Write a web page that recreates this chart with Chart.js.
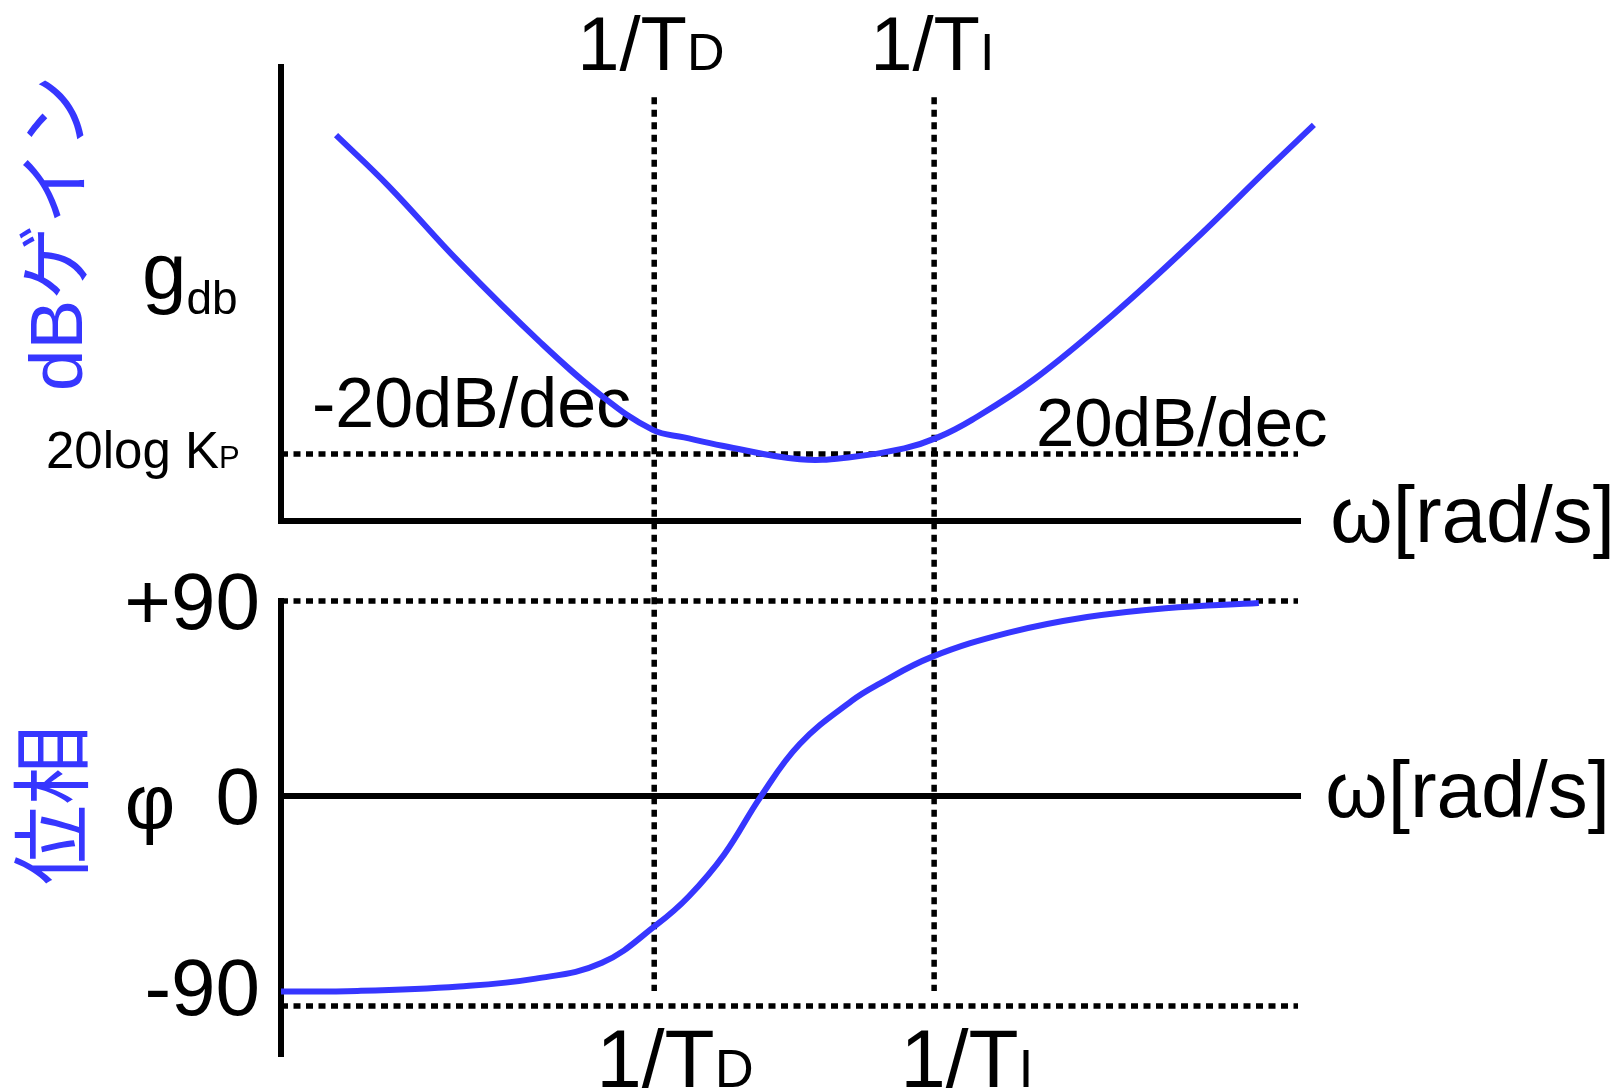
<!DOCTYPE html>
<html>
<head>
<meta charset="utf-8">
<title>PID Bode sketch</title>
<script src="https://cdn.jsdelivr.net/npm/chart.js@4.4.1/dist/chart.umd.min.js"></script>
<style>
  html, body { margin: 0; padding: 0; background: #fff; }
  #wrap { position: relative; width: 1618px; height: 1088px; }
</style>
</head>
<body>
<div id="wrap"><canvas id="bode"></canvas></div>
<script>
// x = position along the (log) frequency axis, y-axis sits at 0
const gainW = [0.59, 1.15, 1.91, 2.78, 3.44, 3.99, 4.32, 4.73, 5.56, 6.12, 6.68, 7.04, 7.41, 8.08, 8.92, 9.76, 10.59, 11.07];
const gainDb = [102.0, 88.6, 68.4, 47.2, 33.0, 24.0, 22.1, 19.9, 16.3, 16.9, 19.2, 22.1, 26.8, 37.6, 54.6, 73.5, 93.4, 104.7];

const phaseW = [0, 0.82, 1.91, 2.73, 3.44, 4.03, 4.37, 4.75, 5.14, 5.56, 6.12, 6.40, 6.97, 7.80, 8.64, 9.48, 10.48];
const phaseDeg = [-90.3, -90.0, -87.9, -84.3, -77.0, -59.3, -46.4, -27.0, -0.4, 24.0, 44.0, 51.5, 64.1, 75.4, 82.6, 86.7, 89.1];

const cornerD = 4;      // 1/TD
const cornerI = 7;      // 1/TI
const kpLevel = 17.7;   // 20log Kp
const phaseTickLabels = ['+90', '0', '-90'];
const phaseTickValues = [90, 0, -88];
const phaseGuides = [90, -97];   // dotted guides, the lower one sits a little under the curve's start
const axisEnd = 10.9;

(function () {
  const BLUE = '#3636ff';
  const INK = '#000';
  const LATIN = '"Liberation Sans", Arial, Helvetica, sans-serif';
  const JP = '"Liberation Sans", "Noto Sans CJK JP", sans-serif';

  function line(ctx, x1, y1, x2, y2, dotted) {
    ctx.save();
    ctx.strokeStyle = INK;
    if (dotted) {
      ctx.lineWidth = 5.5;
      ctx.setLineDash([7, 5.5]);
      ctx.lineCap = 'butt';
    } else {
      ctx.lineWidth = 6;
      ctx.lineCap = 'square';
    }
    ctx.beginPath();
    ctx.moveTo(x1, y1);
    ctx.lineTo(x2, y2);
    ctx.stroke();
    ctx.restore();
  }

  function text(ctx, str, x, y, size, align, font) {
    ctx.font = `${size}px ${font || LATIN}`;
    ctx.textAlign = align || 'left';
    ctx.textBaseline = 'alphabetic';
    ctx.fillText(str, x, y);
    return ctx.measureText(str).width;
  }

  // main text followed by a lowered, smaller suffix (T_D, K_P, g_db)
  function subText(ctx, main, sub, x, y, size, subSize, subY) {
    const w = text(ctx, main, x, y, size);
    text(ctx, sub, x + w, subY == null ? y : subY, subSize);
  }

  function vText(ctx, str, x, y, size) {
    ctx.save();
    ctx.translate(x, y);
    ctx.rotate(-Math.PI / 2);
    ctx.fillStyle = BLUE;
    text(ctx, str, 0, 0, size, 'center', JP);
    ctx.restore();
  }

  const bodeDecor = {
    id: 'bodeDecor',
    beforeDatasetsDraw(chart) {
      const { ctx, chartArea, scales } = chart;
      const { x, yGain, yPhase } = scales;
      const x0 = x.getPixelForValue(0);
      const xEnd = x.getPixelForValue(axisEnd);

      // gain panel
      line(ctx, x0, chartArea.top, x0, yGain.getPixelForValue(0));
      line(ctx, x0, yGain.getPixelForValue(0), xEnd, yGain.getPixelForValue(0));
      line(ctx, x0, yGain.getPixelForValue(kpLevel), xEnd, yGain.getPixelForValue(kpLevel), true);

      // phase panel
      line(ctx, x0, yPhase.getPixelForValue(90), x0, chartArea.bottom);
      line(ctx, x0, yPhase.getPixelForValue(0), xEnd, yPhase.getPixelForValue(0));
      phaseGuides.forEach(v => {
        const py = yPhase.getPixelForValue(v);
        line(ctx, x0, py, xEnd, py, true);
      });

      // corner frequencies
      [cornerD, cornerI].forEach(c => {
        const px = x.getPixelForValue(c);
        line(ctx, px, yGain.getPixelForValue(112), px, yPhase.getPixelForValue(-90), true);
      });

      ctx.save();
      ctx.fillStyle = INK;
      const pd = x.getPixelForValue(cornerD);
      const pi = x.getPixelForValue(cornerI);
      subText(ctx, '1/T', 'D', pd - 77, 70, 76, 52);
      subText(ctx, '1/T', 'I', pi - 64, 70, 76, 52);
      subText(ctx, '1/T', 'D', pd - 58, 1087, 82, 54);
      subText(ctx, '1/T', 'I', pi - 34, 1087, 82, 54);

      subText(ctx, 'g', 'db', 142, 298, 80, 46, 314);
      subText(ctx, '20log K', 'P', 46, 468, 51, 31);
      text(ctx, '-20dB/dec', 312, 427, 70);
      text(ctx, '20dB/dec', 1036, 446, 69);
      text(ctx, 'ω[rad/s]', 1615, yGain.getPixelForValue(0) + 21, 80, 'right');
      text(ctx, 'ω[rad/s]', 1610, yPhase.getPixelForValue(0) + 21, 80, 'right');

      phaseTickLabels.forEach((lab, i) => {
        text(ctx, lab, 260, yPhase.getPixelForValue(phaseTickValues[i]) + 28, 80, 'right');
      });
      text(ctx, 'φ', 150, yPhase.getPixelForValue(0) + 33, 78, 'center');
      ctx.restore();

      vText(ctx, 'dBゲイン', 82, 233, 75);
      vText(ctx, '位相', 81, 805, 80);
    }
  };

  const toPoints = (xs, ys) => xs.map((v, i) => ({ x: v, y: ys[i] }));

  const curveStyle = {
    borderColor: BLUE,
    borderWidth: 6,
    borderCapStyle: 'butt',
    pointRadius: 0,
    tension: 0.4,
    clip: false,
  };

  new Chart(document.getElementById('bode'), {
    type: 'line',
    data: {
      datasets: [
        { label: 'gain', data: toPoints(gainW, gainDb), yAxisID: 'yGain', ...curveStyle },
        { label: 'phase', data: toPoints(phaseW, phaseDeg), yAxisID: 'yPhase', ...curveStyle },
      ],
    },
    options: {
      responsive: true,
      maintainAspectRatio: false,
      animation: false,
      layout: { autoPadding: false, padding: { left: 281, right: 292, top: 67, bottom: 34 } },
      plugins: { legend: { display: false }, tooltip: { enabled: false } },
      events: [],
      scales: {
        x: { type: 'linear', min: 0, max: 11.2, display: false, bounds: 'data' },
        // both panels share one plot area; ranges put gain 0 on the upper axis and phase 0 on the lower one
        yGain: { type: 'linear', min: -140.9, max: 120, display: false, bounds: 'data' },
        yPhase: { type: 'linear', min: -119.1, max: 336.5, display: false, bounds: 'data' },
      },
    },
    plugins: [bodeDecor],
  });
})();
</script>
</body>
</html>
